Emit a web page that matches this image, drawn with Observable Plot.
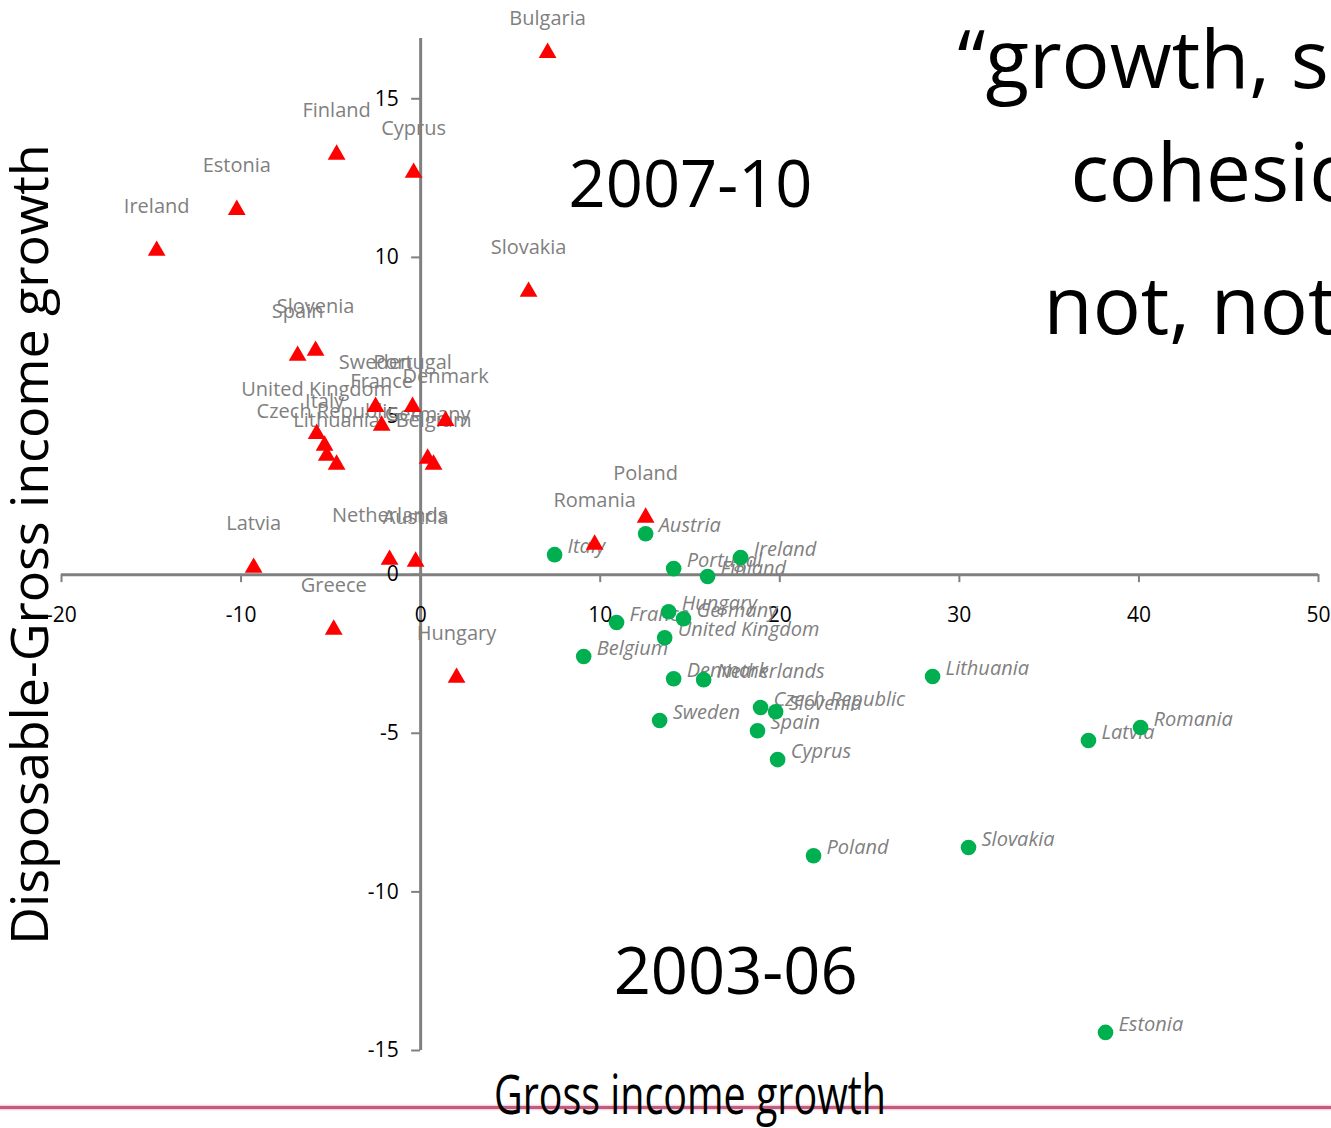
<!DOCTYPE html>
<html>
<head>
<meta charset="utf-8">
<script src="https://cdn.jsdelivr.net/npm/d3@7"></script>
<script src="https://cdn.jsdelivr.net/npm/@observablehq/plot@0.6"></script>
<style>
  html, body { margin: 0; padding: 0; overflow: hidden; background: #fff; }
  #chart { position: relative; width: 1331px; height: 1128px; }
  #chart svg { position: relative; z-index: 1; }
  .deco { position: absolute; z-index: 0; left: 0; top: 1106px; width: 1331px; height: 3px; background: #c25b7d; box-shadow: 0 0 2px 1px #f2c4d3; }
</style>
</head>
<body>
<div id="chart"><div class="deco"></div></div>
<script>
// 2007-10 series (red triangles)
const countries0710 = ["Bulgaria","Finland","Cyprus","Estonia","Ireland","Slovakia","Spain","Slovenia","Sweden","Portugal","France","Denmark","United Kingdom","Italy","Czech Republic","Lithuania","Germany","Belgium","Netherlands","Austria","Latvia","Greece","Hungary","Romania","Poland"];
const gross0710 = [7.07,-4.68,-0.39,-10.24,-14.70,6.01,-6.85,-5.85,-2.51,-0.45,-2.17,1.39,-5.79,-5.35,-5.23,-4.68,0.39,0.72,-1.73,-0.28,-9.30,-4.84,2.00,9.69,12.53];
const diff0710  = [16.45,13.24,12.67,11.50,10.21,8.92,6.90,7.06,5.29,5.29,4.70,4.85,4.44,4.07,3.75,3.47,3.66,3.47,0.47,0.41,0.22,-1.73,-3.25,0.95,1.80];

// 2003-06 series (green circles)
const countries0306 = ["Italy","Austria","Ireland","Portugal","Finland","France","Hungary","Germany","United Kingdom","Belgium","Denmark","Netherlands","Czech Republic","Slovenia","Sweden","Spain","Cyprus","Lithuania","Latvia","Romania","Poland","Slovakia","Estonia"];
const gross0306 = [7.46,12.53,17.82,14.09,15.98,10.91,13.81,14.64,13.59,9.08,14.09,15.76,18.93,19.77,13.31,18.76,19.88,28.51,37.19,40.09,21.88,30.51,38.14];
const diff0306  = [0.63,1.29,0.54,0.19,-0.06,-1.51,-1.17,-1.39,-1.99,-2.58,-3.28,-3.31,-4.19,-4.32,-4.60,-4.92,-5.83,-3.21,-5.23,-4.82,-8.86,-8.60,-14.43];

const xTicks = [-20,-10,0,10,20,30,40,50];
const yTicks = [-15,-10,-5,0,5,10,15];
const periodLabels = ["2007-10","2003-06"];
const titleLines = ["\u201Cgrowth, s","cohesio","not, not"];
const xTitle = "Gross income growth";
const yTitle = "Disposable-Gross income growth";

const data0710 = countries0710.map((c,i) => ({country: c, gross: gross0710[i], diff: diff0710[i]}));
const data0306 = countries0306.map((c,i) => ({country: c, gross: gross0306[i], diff: diff0306[i]}));

const gray = "#808080";
const labelGray = "#7f7f7f";
// labels above the top of the plot area are kept inside it (as the source chart does)
const labelCeiling = 16.14;

const chart = Plot.plot({
  width: 1331,
  height: 1128,
  marginLeft: 61,
  marginRight: 13,
  marginTop: 38,
  marginBottom: 78,
  x: {domain: [-20, 50], axis: null},
  y: {domain: [-15, 16.9], axis: null},
  style: {fontFamily: "'Open Sans', sans-serif", background: "transparent", overflow: "hidden"},
  marks: [
    Plot.ruleY([0], {stroke: gray, strokeWidth: 3}),
    Plot.ruleX([0], {stroke: gray, strokeWidth: 3}),
    Plot.ruleX(xTicks, {x: d => d, y1: () => 0, y2: () => 0, insetBottom: -8, stroke: gray, strokeWidth: 2}),
    Plot.ruleY(yTicks, {y: d => d, x1: () => 0, x2: () => 0, insetLeft: -9, stroke: gray, strokeWidth: 2}),
    Plot.text(xTicks, {x: d => d, y: () => 0, text: d => String(d), dy: 41, fontSize: 21, fill: "black"}),
    Plot.text(yTicks, {x: () => 0, y: d => d, text: d => String(d), dx: -22, textAnchor: "end", fontSize: 21, fill: "black"}),
    // axis titles
    Plot.text([yTitle], {text: d => d, frameAnchor: "left", textAnchor: "middle", lineAnchor: "middle", rotate: -90, dx: -30, fontSize: 52, fill: "black"}),
    Plot.text([xTitle], {text: d => d, frameAnchor: "bottom", textAnchor: "middle", lineAnchor: "bottom", dy: 63, fontSize: 54, fill: "black"}),
    // period annotations
    Plot.text([periodLabels[0]], {x: () => 15.03, y: () => 12.26, text: d => d, fontSize: 65, fill: "black"}),
    Plot.text([periodLabels[1]], {x: () => 17.54, y: () => -12.57, text: d => d, fontSize: 65, fill: "black"}),
    // cut-off slide title
    Plot.text([titleLines[0]], {x: () => 29.9, y: () => 15.35, text: d => d, textAnchor: "start", lineAnchor: "bottom", fontSize: 80, fill: "black"}),
    Plot.text([titleLines[1]], {x: () => 36.19, y: () => 11.79, text: d => d, textAnchor: "start", lineAnchor: "bottom", fontSize: 80, fill: "black"}),
    Plot.text([titleLines[2]], {x: () => 34.69, y: () => 7.60, text: d => d, textAnchor: "start", lineAnchor: "bottom", fontSize: 80, fill: "black"}),
    // data labels
    Plot.text(data0710, {x: "gross", y: d => Math.min(d.diff, labelCeiling), text: "country", dy: -44, fill: labelGray, fontSize: 20}),
    Plot.text(data0306, {x: "gross", y: "diff", text: "country", dx: 13, dy: -8, textAnchor: "start", fontStyle: "italic", fill: labelGray, fontSize: 20}),
    // markers
    Plot.dot(data0710, {x: "gross", y: "diff", symbol: "triangle", r: 6.6, fill: "#ff0000"}),
    Plot.dot(data0306, {x: "gross", y: "diff", r: 7.8, fill: "#00b050"})
  ]
});

d3.select(chart).selectAll("text")
  .filter(function() { return this.textContent === xTitle; })
  .attr("textLength", 392)
  .attr("lengthAdjust", "spacingAndGlyphs");

document.getElementById("chart").appendChild(chart);
</script>
</body>
</html>
